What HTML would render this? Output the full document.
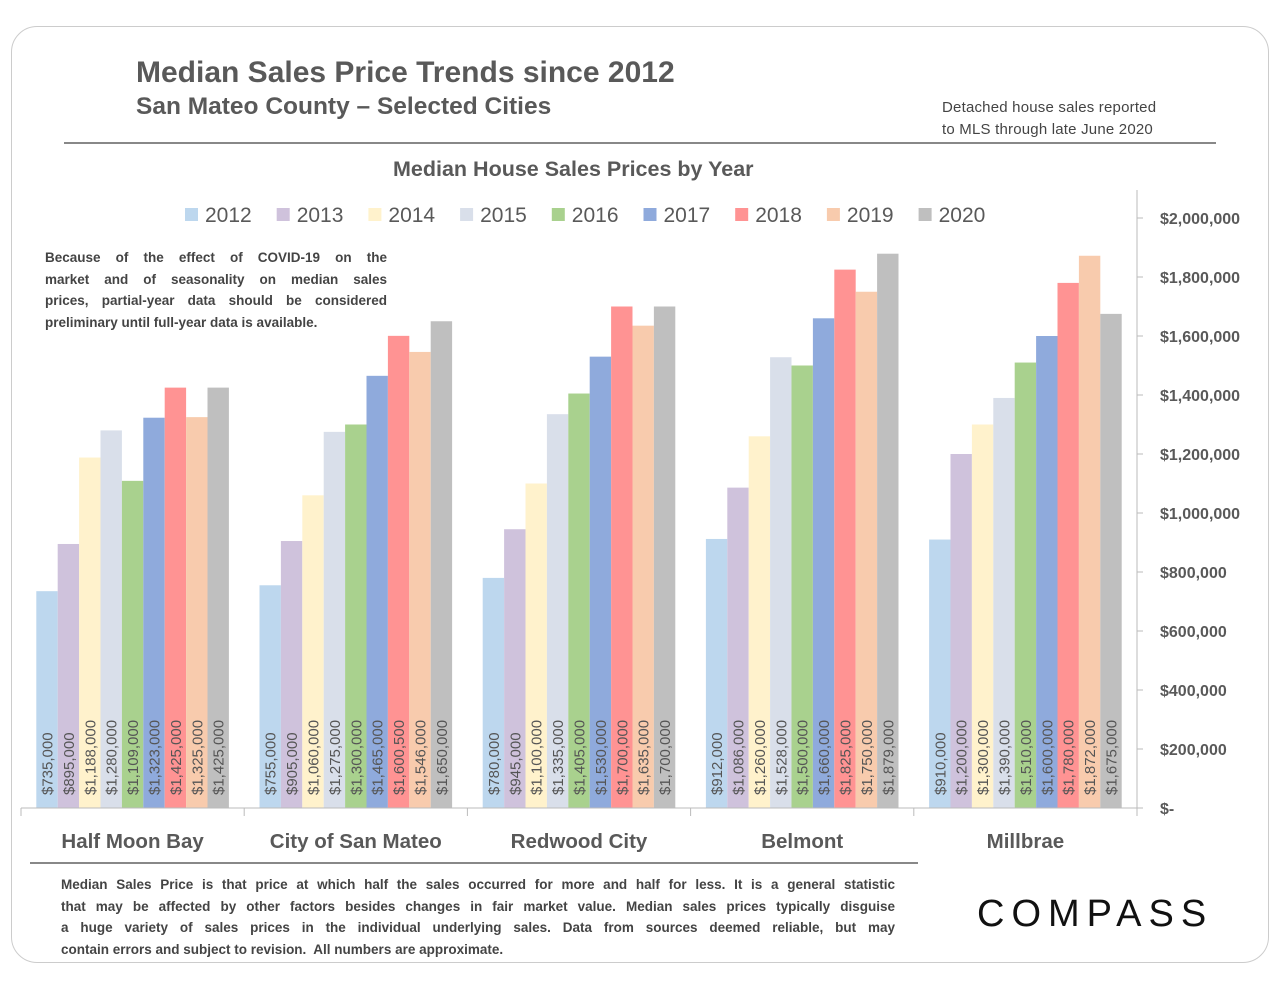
<!DOCTYPE html>
<html><head><meta charset="utf-8"><style>
body{margin:0;background:#fff;font-family:"Liberation Sans",sans-serif;}
#wrap{position:relative;width:1280px;height:989px;overflow:hidden;}
.t{position:absolute;color:#555;white-space:nowrap}
.j{display:block;text-align:justify;text-align-last:justify;white-space:normal}
.l{display:block;white-space:nowrap}
</style></head><body>
<div id="wrap">
<div style="position:absolute;left:11px;top:26px;width:1256px;height:935px;border:1.5px solid #ccc;border-radius:26px"></div>
<div class="t" style="left:136px;top:56px;font-size:30px;font-weight:bold;color:#595959">Median Sales Price Trends since 2012</div>
<div class="t" style="left:136px;top:93px;font-size:24.5px;font-weight:bold;color:#595959">San Mateo County – Selected Cities</div>
<div class="t" style="left:942px;top:97px;font-size:15px;line-height:22px;color:#444;letter-spacing:0.2px">Detached house sales reported<br>to MLS through late June 2020</div>
<div style="position:absolute;left:64px;top:142px;width:1152px;height:1.5px;background:#888"></div>
<div class="t" style="left:393px;top:157px;font-size:21.5px;font-weight:bold;color:#595959">Median House Sales Prices by Year</div>
<div class="t" style="left:45px;top:247px;width:342px;font-size:13.5px;font-weight:bold;line-height:21.5px;color:#444;white-space:normal">
<span class="j">Because of the effect of COVID-19 on the</span>
<span class="j">market and of seasonality on median sales</span>
<span class="j">prices, partial-year data should be considered</span>
<span class="l">preliminary until full-year data is available.</span></div>
<div style="position:absolute;left:30px;top:862px;width:888px;height:1.5px;background:#888"></div>
<div class="t" style="left:61px;top:874px;width:834px;font-size:13.5px;font-weight:bold;line-height:21.5px;color:#444;white-space:normal">
<span class="j">Median Sales Price is that price at which half the sales occurred for more and half for less. It is a general statistic</span>
<span class="j">that may be affected by other factors besides changes in fair market value. Median sales prices typically disguise</span>
<span class="j">a huge variety of sales prices in the individual underlying sales. Data from sources deemed reliable, but may</span>
<span class="l">contain errors and subject to revision.&nbsp; All numbers are approximate.</span></div>
<div class="t" style="left:977px;top:893px;font-size:38px;letter-spacing:7px;color:#111">COMPASS</div>
<svg id="chart" width="1280" height="989" style="position:absolute;left:0;top:0"></svg>
</div>
<script>
const cities=["Half Moon Bay","City of San Mateo","Redwood City","Belmont","Millbrae"];
const years=["2012","2013","2014","2015","2016","2017","2018","2019","2020"];
const v2012=[735000,755000,780000,912000,910000];
const v2013=[895000,905000,945000,1086000,1200000];
const v2014=[1188000,1060000,1100000,1260000,1300000];
const v2015=[1280000,1275000,1335000,1528000,1390000];
const v2016=[1109000,1300000,1405000,1500000,1510000];
const v2017=[1323000,1465000,1530000,1660000,1600000];
const v2018=[1425000,1600500,1700000,1825000,1780000];
const v2019=[1325000,1546000,1635000,1750000,1872000];
const v2020=[1425000,1650000,1700000,1879000,1675000];
const yTicks=[0,200000,400000,600000,800000,1000000,1200000,1400000,1600000,1800000,2000000];
const series=[v2012,v2013,v2014,v2015,v2016,v2017,v2018,v2019,v2020];
const colors=["#bdd7ee","#cfc2dc","#fff2cc","#d9dfea","#a9d18e","#8faadc","#ff9393","#f8cbad","#bfbfbf"];
const NS="http://www.w3.org/2000/svg",svg=document.getElementById('chart');
const x0=21,x1=1137,y0=808,y1=218,maxV=2000000;
const gw=(x1-x0)/cities.length, bw=21.4, pad=(gw-bw*9)/2;
const y=v=>y0-(v/maxV)*(y0-y1);
const gx=i=>x0+i*gw;
function mk(t,a){const e=document.createElementNS(NS,t);for(const k in a)e.setAttribute(k,a[k]);svg.appendChild(e);return e;}
const fmt=v=>"$"+v.toLocaleString("en-US");
series.forEach((s,j)=>{s.forEach((v,i)=>{
 const bx=gx(i)+pad+j*bw;
 const r=mk('rect',{x:bx,y:y(v),width:bw,height:y0-y(v),fill:colors[j]});
 
 
 const t=mk('text',{x:0,y:0,transform:`translate(${bx+bw/2+5.5},795) rotate(-90)`,'font-size':15,fill:'#555','font-family':'Liberation Sans, sans-serif'});
 t.textContent=fmt(v);
 
 
});});
mk('line',{x1:x0,y1:y0,x2:x1,y2:y0,stroke:'#bbb','stroke-width':1});
mk('line',{x1:x1,y1:190,x2:x1,y2:y0+8,stroke:'#bbb','stroke-width':1});
for(let i=0;i<=cities.length;i++){mk('line',{x1:gx(i),y1:y0,x2:gx(i),y2:y0+8,stroke:'#bbb'});}
cities.forEach((c,i)=>{const t=mk('text',{x:gx(i)+gw/2,y:848,'text-anchor':'middle','font-size':20.5,'font-weight':'bold',fill:'#595959','font-family':'Liberation Sans, sans-serif'});t.textContent=c;
 
 });
yTicks.forEach(v=>{mk('line',{x1:x1,y1:y(v),x2:x1+6,y2:y(v),stroke:'#bbb'});
 const t=mk('text',{x:1160,y:y(v)+6,'font-size':16,'font-weight':'bold',fill:'#595959','font-family':'Liberation Sans, sans-serif'});t.textContent=v===0?"$-":fmt(v);
 
 });
years.forEach((yr,j)=>{const lx=185+j*91.7;
 const r=mk('rect',{x:lx,y:208,width:13,height:13,fill:colors[j]});
 
 
 const t=mk('text',{x:lx+20,y:222,'font-size':21,fill:'#595959','font-family':'Liberation Sans, sans-serif'});t.textContent=yr;
 
 });
</script>
</body></html>
